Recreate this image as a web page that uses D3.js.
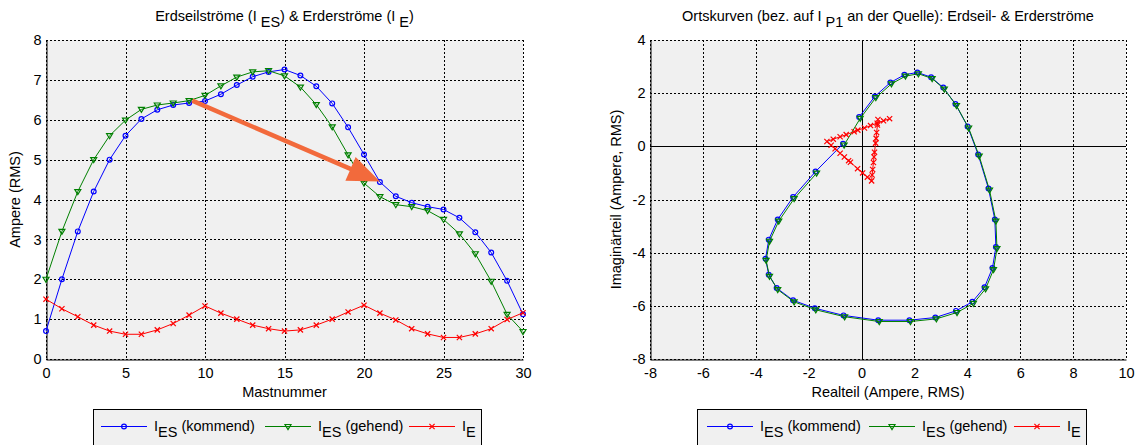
<!DOCTYPE html>
<html>
<head>
<meta charset="utf-8">
<script src="https://cdn.jsdelivr.net/npm/d3@7"></script>
<style>
  body { margin: 0; background: #fff; }
  text { font-family: "Liberation Sans", Arial, Helvetica, sans-serif; fill: #000; white-space: pre; }
</style>
</head>
<body>
<svg id="fig" width="1145" height="445"></svg>
<script>
// ---- Data -------------------------------------------------------------
// Mast numbers along the line
const masts = [0,1,2,3,4,5,6,7,8,9,10,11,12,13,14,15,16,17,18,19,20,21,22,23,24,25,26,27,28,29,30];

// RMS magnitudes per mast (A)
const iesKommend = [0.70,2.00,3.20,4.20,5.00,5.60,6.02,6.25,6.37,6.42,6.47,6.64,6.87,7.08,7.20,7.26,7.11,6.84,6.41,5.81,5.13,4.44,4.08,3.92,3.82,3.75,3.54,3.18,2.67,1.96,1.12];
const iesGehend  = [2.00,3.20,4.20,5.00,5.60,5.99,6.26,6.37,6.42,6.48,6.61,6.85,7.07,7.20,7.23,7.10,6.82,6.38,5.82,5.12,4.41,4.07,3.87,3.82,3.72,3.50,3.14,2.64,1.95,1.12,0.69];
const ie         = [1.50,1.26,1.06,0.85,0.70,0.62,0.62,0.73,0.89,1.10,1.33,1.15,1.00,0.85,0.76,0.70,0.73,0.85,1.00,1.18,1.35,1.15,0.98,0.76,0.63,0.54,0.54,0.63,0.76,0.99,1.16];

// Phasors referred to I_P1 at the source (real / imaginary parts, A)
const kommendRe = [-0.70,-1.74,-2.59,-3.17,-3.51,-3.63,-3.51,-3.21,-2.59,-1.77,-0.68,0.63,1.81,2.79,3.57,4.19,4.65,4.95,5.08,5.04,4.80,4.41,4.01,3.55,3.09,2.63,2.11,1.62,1.09,0.50,-0.09];
const kommendIm = [0.10,-0.95,-1.91,-2.75,-3.51,-4.23,-4.83,-5.33,-5.79,-6.09,-6.36,-6.54,-6.54,-6.44,-6.19,-5.85,-5.30,-4.58,-3.79,-2.75,-1.59,-0.31,0.75,1.59,2.21,2.60,2.78,2.69,2.40,1.875,1.10];
const gehendRe  = [-1.70,-2.55,-3.13,-3.48,-3.61,-3.48,-3.17,-2.55,-1.73,-0.64,0.67,1.85,2.83,3.61,4.23,4.69,4.99,5.12,5.08,4.84,4.45,4.05,3.59,3.13,2.67,2.15,1.66,1.13,0.54,-0.05,-0.66];
const gehendIm  = [-1.01,-1.97,-2.81,-3.57,-4.29,-4.89,-5.39,-5.85,-6.15,-6.41,-6.59,-6.59,-6.49,-6.25,-5.91,-5.36,-4.64,-3.85,-2.81,-1.65,-0.37,0.69,1.53,2.15,2.55,2.73,2.64,2.35,1.83,1.05,0.05];
const ieRe      = [1.06,0.83,0.59,0.34,0.11,-0.14,-0.28,-0.58,-0.81,-1.07,-1.31,-1.15,-1.00,-0.81,-0.65,-0.49,-0.42,-0.15,0.04,0.22,0.38,0.40,0.42,0.45,0.47,0.49,0.53,0.55,0.57,0.60,0.62];
const ieIm      = [1.04,0.96,0.87,0.78,0.69,0.61,0.55,0.44,0.36,0.27,0.18,0.04,-0.09,-0.26,-0.40,-0.54,-0.60,-0.84,-1.00,-1.16,-1.30,-1.08,-0.87,-0.61,-0.40,-0.22,0.12,0.30,0.52,0.80,1.01];

// Axis ticks
const xTicksL = [0,5,10,15,20,25,30];
const yTicksL = [0,1,2,3,4,5,6,7,8];
const xTicksR = [-8,-6,-4,-2,0,2,4,6,8,10];
const yTicksR = [-8,-6,-4,-2,0,2,4];

// Highlight arrow (mast, ampere)
const arrowFrom = [9.2, 6.48];
const arrowTo   = [21.0, 4.45];

// ---- Styling ----------------------------------------------------------
const COL_K = "#0000ff", COL_G = "#008000", COL_E = "#ff0000", COL_ARROW = "#f26a3c";
const FS = 14.5;

const svg = d3.select("#fig");

// Scales
const xL = d3.scaleLinear().domain([0, 30]).range([46, 523]);
const yL = d3.scaleLinear().domain([0, 8]).range([359, 40]);
const xR = d3.scaleLinear().domain([-8, 10]).range([650, 1126]);
const yR = d3.scaleLinear().domain([-8, 4]).range([359, 40]);

// Rich text with subscripts: parts = [[text, isSub], ...]
function richText(g, x, y, parts, anchor) {
  const t = g.append("text").attr("x", x).attr("y", y)
    .attr("font-size", FS).attr("text-anchor", anchor || "start");
  let shifted = false;
  parts.forEach(([s, sub]) => {
    const ts = t.append("tspan").text(s);
    if (sub && !shifted) { ts.attr("dy", 6); shifted = true; }
    else if (!sub && shifted) { ts.attr("dy", -6); shifted = false; }
  });
  return t;
}

function panel(x, y, xTicks, yTicks) {
  const g = svg.append("g");
  const [x0, x1] = x.range(), [y0, y1] = y.range();
  g.append("rect").attr("x", x0).attr("y", y1).attr("width", x1 - x0).attr("height", y0 - y1)
    .attr("fill", "#f0f0f0");

  // dotted grid
  const grid = g.append("g").attr("stroke", "#000").attr("stroke-width", 1)
    .attr("stroke-dasharray", "2,2");
  grid.selectAll("line.gx").data(xTicks).join("line").attr("class", "gx")
    .attr("x1", d => Math.round(x(d)) + 0.5).attr("x2", d => Math.round(x(d)) + 0.5)
    .attr("y1", y1).attr("y2", y0);
  grid.selectAll("line.gy").data(yTicks).join("line").attr("class", "gy")
    .attr("y1", d => Math.round(y(d)) + 0.5).attr("y2", d => Math.round(y(d)) + 0.5)
    .attr("x1", x0).attr("x2", x1);

  // axes with labels
  const ax = g.append("g").attr("transform", `translate(0,${Math.round(y0) + 0.5})`)
    .call(d3.axisBottom(x).tickValues(xTicks).tickSize(0).tickPadding(8).tickFormat(String));
  const ay = g.append("g").attr("transform", `translate(${Math.round(x0) + 0.5},0)`)
    .call(d3.axisLeft(y).tickValues(yTicks).tickSize(0).tickPadding(5).tickFormat(String));
  [ax, ay].forEach(a => {
    a.select(".domain").attr("stroke", "#000").attr("stroke-width", 1);
    a.selectAll("text").attr("font-size", FS).attr("font-family", null).attr("fill", "#000");
  });
  return g;
}

function markers(g, pts, kind, color) {
  const m = g.append("g").attr("fill", "none").attr("stroke", color).attr("stroke-width", 1.2);
  pts.forEach(([px, py]) => {
    if (kind === "circle") {
      m.append("circle").attr("cx", px).attr("cy", py).attr("r", 2.4);
    } else if (kind === "tri") {
      m.append("path").attr("d", `M${px - 3},${py - 2} L${px + 3},${py - 2} L${px},${py + 3} Z`);
    } else {
      m.append("path").attr("d", `M${px - 2.6},${py - 2.6} L${px + 2.6},${py + 2.6} M${px - 2.6},${py + 2.6} L${px + 2.6},${py - 2.6}`);
    }
  });
}

function series(g, pts, kind, color) {
  g.append("path").attr("d", d3.line()(pts)).attr("fill", "none")
    .attr("stroke", color).attr("stroke-width", 1);
  markers(g, pts, kind, color);
}

// ---- Left panel: magnitudes along the line -----------------------------
const gL = panel(xL, yL, xTicksL, yTicksL);
series(gL, masts.map((m, i) => [xL(m), yL(iesKommend[i])]), "circle", COL_K);
series(gL, masts.map((m, i) => [xL(m), yL(iesGehend[i])]), "tri", COL_G);
series(gL, masts.map((m, i) => [xL(m), yL(ie[i])]), "x", COL_E);

// arrow
{
  const ax0 = xL(arrowFrom[0]), ay0 = yL(arrowFrom[1]);
  const ax1 = xL(arrowTo[0]), ay1 = yL(arrowTo[1]);
  const dx = ax1 - ax0, dy = ay1 - ay0, len = Math.hypot(dx, dy);
  const ux = dx / len, uy = dy / len, nx = -uy, ny = ux;
  const headL = 32, headW = 13, shaftW = 2.2;
  const bx = ax1 - ux * headL, by = ay1 - uy * headL;
  const p = [
    [ax0 + nx * shaftW, ay0 + ny * shaftW],
    [bx + nx * shaftW, by + ny * shaftW],
    [bx + nx * headW, by + ny * headW],
    [ax1, ay1],
    [bx - nx * headW, by - ny * headW],
    [bx - nx * shaftW, by - ny * shaftW],
    [ax0 - nx * shaftW, ay0 - ny * shaftW]
  ];
  gL.append("path").attr("d", "M" + p.map(q => q.join(",")).join("L") + "Z")
    .attr("fill", COL_ARROW).attr("stroke", "none");
}

richText(svg, 284.5, 21, [["Erdseilströme (I "], ["ES", true], [") & Erderströme (I "], ["E", true], [")"]], "middle");
svg.append("text").attr("x", 284.5).attr("y", 397).attr("font-size", FS)
  .attr("text-anchor", "middle").text("Mastnummer");
svg.append("text").attr("transform", "translate(20,199.5) rotate(-90)").attr("font-size", FS)
  .attr("text-anchor", "middle").text("Ampere (RMS)");

// ---- Right panel: locus curves ----------------------------------------
const gR = panel(xR, yR, xTicksR, yTicksR);
gR.append("line").attr("x1", Math.round(xR(0)) + 0.5).attr("x2", Math.round(xR(0)) + 0.5)
  .attr("y1", yR(4)).attr("y2", yR(-8)).attr("stroke", "#000");
gR.append("line").attr("y1", Math.round(yR(0)) + 0.5).attr("y2", Math.round(yR(0)) + 0.5)
  .attr("x1", xR(-8)).attr("x2", xR(10)).attr("stroke", "#000");
series(gR, kommendRe.map((r, i) => [xR(r), yR(kommendIm[i])]), "circle", COL_K);
series(gR, gehendRe.map((r, i) => [xR(r), yR(gehendIm[i])]), "tri", COL_G);
series(gR, ieRe.map((r, i) => [xR(r), yR(ieIm[i])]), "x", COL_E);

richText(svg, 888, 21, [["Ortskurven (bez. auf I "], ["P1", true], [" an der Quelle): Erdseil- & Erderströme"]], "middle");
svg.append("text").attr("x", 888).attr("y", 397).attr("font-size", FS)
  .attr("text-anchor", "middle").text("Realteil (Ampere, RMS)");
svg.append("text").attr("transform", "translate(621,199.5) rotate(-90)").attr("font-size", FS)
  .attr("text-anchor", "middle").text("Imaginärteil (Ampere, RMS)");

// ---- Legends ----------------------------------------------------------
const legendItems = [
  { color: COL_K, kind: "circle", label: [["I"], ["ES", true], [" (kommend)"]] },
  { color: COL_G, kind: "tri",    label: [["I"], ["ES", true], [" (gehend)"]] },
  { color: COL_E, kind: "x",      label: [["I"], ["E", true]] }
];
function legend(x0, x1, itemX) {
  const g = svg.append("g");
  g.append("rect").attr("x", x0 + 0.5).attr("y", 409.5).attr("width", x1 - x0).attr("height", 50)
    .attr("fill", "#f0f0f0").attr("stroke", "#000").attr("stroke-width", 1);
  legendItems.forEach((it, i) => {
    const lx = itemX[i];
    g.append("line").attr("x1", lx).attr("x2", lx + 46).attr("y1", 426.5).attr("y2", 426.5)
      .attr("stroke", it.color).attr("stroke-width", 1);
    markers(g, [[lx + 23, 426.5]], it.kind, it.color);
    richText(g, lx + 53, 431, it.label);
  });
}
legend(93, 481, [101, 265, 409]);
legend(697, 1086, [707, 869, 1014]);
</script>
</body>
</html>
